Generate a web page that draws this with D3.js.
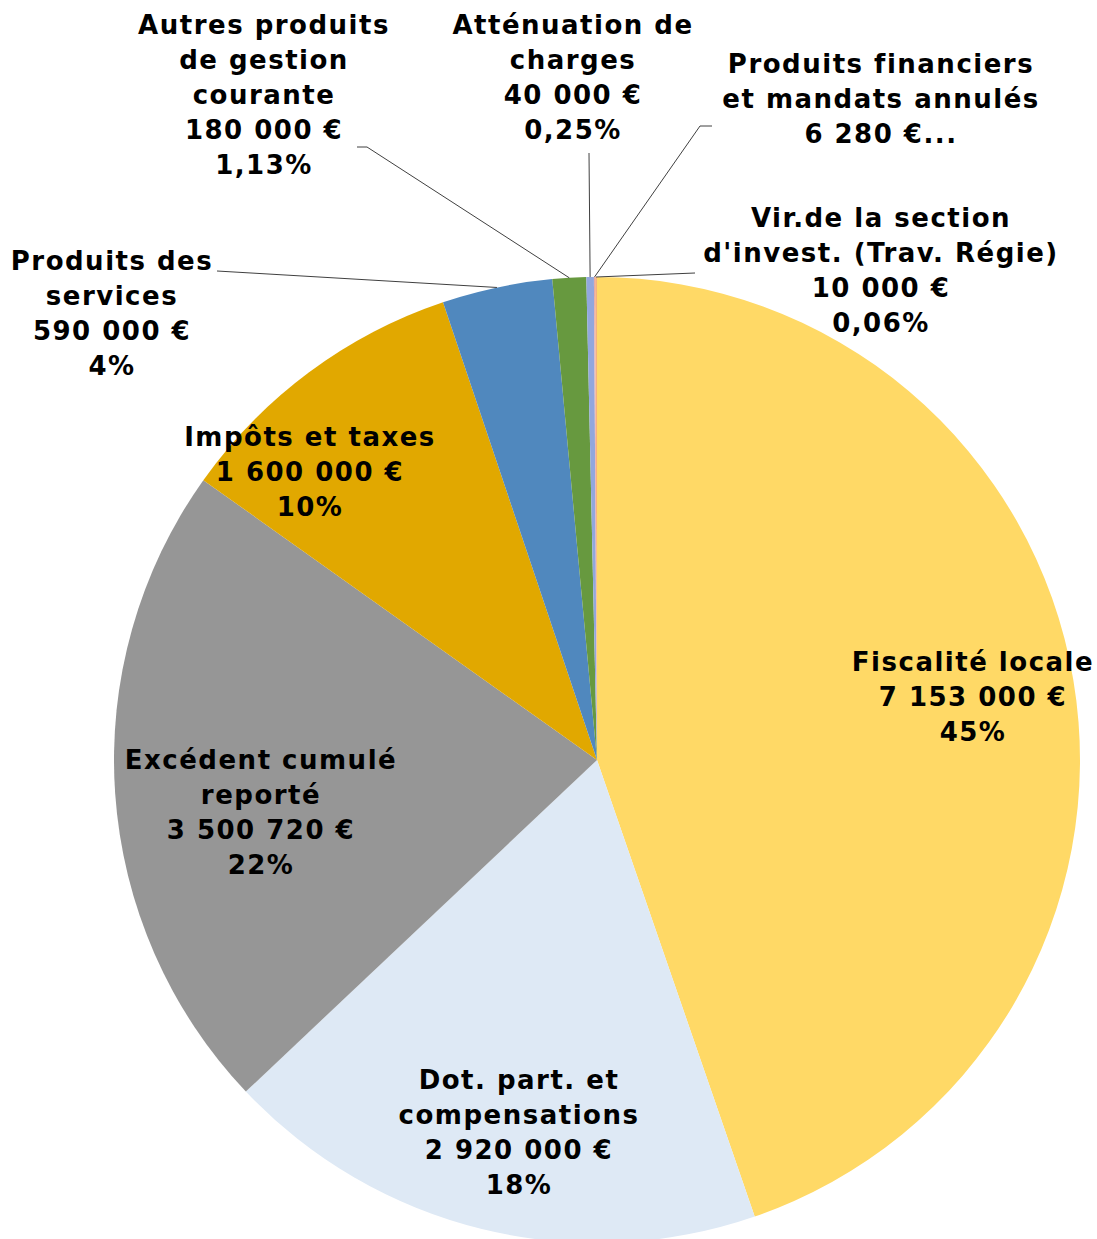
<!DOCTYPE html>
<html>
<head>
<meta charset="utf-8">
<script src="https://cdn.jsdelivr.net/npm/d3@7"></script>
<style>
  html, body { margin: 0; padding: 0; background: #fff; }
  #chart { width: 1097px; height: 1239px; overflow: hidden; }
  text { font-family: "DejaVu Sans", Verdana, sans-serif; font-weight: bold; }
</style>
</head>
<body>
<div id="chart"></div>
<script>
// Budget recettes — pie
const categories = [
  'Fiscalité locale',
  'Dot. part. et compensations',
  'Excédent cumulé reporté',
  'Impôts et taxes',
  'Produits des services',
  'Autres produits de gestion courante',
  'Atténuation de charges',
  'Produits financiers et mandats annulés',
  "Vir.de la section d'invest. (Trav. Régie)"
];
const values = [7153000, 2920000, 3500720, 1600000, 590000, 180000, 40000, 6280, 10000];
const percentLabels = ['45%', '18%', '22%', '10%', '4%', '1,13%', '0,25%', '', '0,06%'];
// name lines as wrapped in the chart
const nameLines = [
  ['Fiscalité locale'],
  ['Dot. part. et', 'compensations'],
  ['Excédent cumulé', 'reporté'],
  ['Impôts et taxes'],
  ['Produits des', 'services'],
  ['Autres produits', 'de gestion', 'courante'],
  ['Atténuation de', 'charges'],
  ['Produits financiers', 'et mandats annulés'],
  ["Vir.de la section", "d'invest. (Trav. Régie)"]
];

const colors = ['#ffd966', '#dee9f5', '#969696', '#e1a800', '#5088be', '#67993f', '#92a7dd', '#e8a9a5', '#f4b183'];

// label placement (center x, center y of first line), leader start points
const labelPos = [
  { x: 973, y: 662 },
  { x: 519, y: 1080 },
  { x: 261, y: 760 },
  { x: 310, y: 437 },
  { x: 112, y: 261, leader: [[217, 271]] },
  { x: 264, y: 25, leader: [[357, 147], [367, 147]] },
  { x: 573, y: 25, leader: [[589, 153]] },
  { x: 881, y: 64, leader: [[712, 126], [700, 126]], truncated: true },
  { x: 881, y: 218, leader: [[695, 273]] }
];

const W = 1097, H = 1239;
const cx = 597, cy = 760, R = 483;
const lineH = 35;
const fontSize = 26;

const frLocale = d3.formatLocale({ decimal: ',', thousands: '\u00a0', grouping: [3], currency: ['', ' €'] });
const fmtEuro = v => frLocale.format(',.0f')(v) + ' €';

const data = categories.map((c, i) => ({ name: c, value: values[i], pct: percentLabels[i], i }));

const svg = d3.select('#chart').append('svg')
  .attr('width', W)
  .attr('height', H)
  .attr('viewBox', `0 0 ${W} ${H}`);

const pie = d3.pie().sort(null).value(d => d.value).startAngle(0).endAngle(2 * Math.PI);
const arcs = pie(data);
const arc = d3.arc().innerRadius(0).outerRadius(R);

const g = svg.append('g').attr('transform', `translate(${cx},${cy})`);

g.selectAll('path.slice')
  .data(arcs)
  .join('path')
  .attr('class', 'slice')
  .attr('d', arc)
  .attr('fill', d => colors[d.index]);

// leader lines for the outside labels
function edgePoint(a) {
  const m = (a.startAngle + a.endAngle) / 2;
  return [cx + R * Math.sin(m), cy - R * Math.cos(m)];
}

svg.append('g')
  .selectAll('path.leader')
  .data(arcs.filter(a => labelPos[a.index].leader))
  .join('path')
  .attr('class', 'leader')
  .attr('d', a => d3.line()(labelPos[a.index].leader.concat([edgePoint(a)])))
  .attr('fill', 'none')
  .attr('stroke', '#404040')
  .attr('stroke-width', 1);

// labels
const labels = svg.append('g')
  .selectAll('text.label')
  .data(data)
  .join('text')
  .attr('class', 'label')
  .attr('text-anchor', 'middle')
  .attr('font-size', fontSize + 'px')
  .attr('letter-spacing', '1.5px')
  .attr('fill', '#000');

labels.each(function (d) {
  const p = labelPos[d.i];
  let lines = nameLines[d.i].slice();
  if (p.truncated) {
    lines.push(fmtEuro(d.value) + '...');
  } else {
    lines.push(fmtEuro(d.value));
    if (d.pct) lines.push(d.pct);
  }
  d3.select(this).selectAll('tspan')
    .data(lines)
    .join('tspan')
    .attr('x', p.x)
    .attr('y', (l, k) => p.y + k * lineH + 9)
    .text(l => l);
});
</script>
</body>
</html>
